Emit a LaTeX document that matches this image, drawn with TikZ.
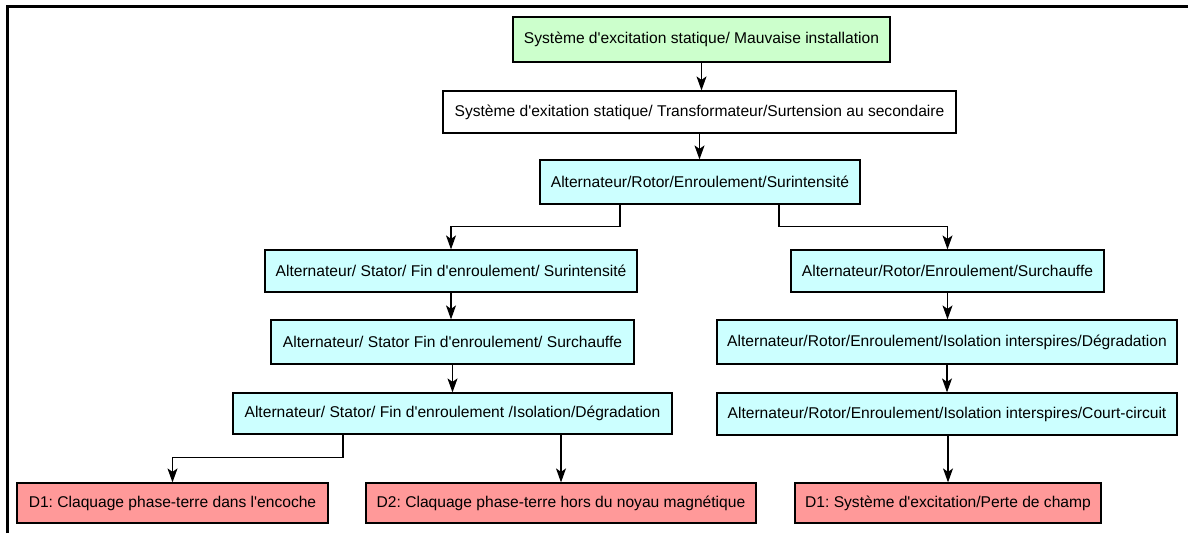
\documentclass[tikz,border=0pt]{standalone}
\usepackage{fontspec}
\setmainfont{Liberation Sans}[Ligatures=TeXOff]
\usetikzlibrary{arrows.meta}
\definecolor{gbox}{HTML}{CCFFCC}
\definecolor{cbox}{HTML}{CCFFFF}
\definecolor{rbox}{HTML}{FF9999}
\frenchspacing
\begin{document}
\begin{tikzpicture}[x=1pt,y=-1pt,
  box/.style={draw, line width=1.2pt, inner sep=0pt, font=\fontsize{15.6}{18}\selectfont},
  arr/.style={line width=1.2pt, -{Stealth[length=14pt,width=10pt,inset=3.5pt]}},
  ln/.style={line width=1.2pt}]
\useasboundingbox (0,0) rectangle (1188,533);
\fill[white] (0,0) rectangle (1188,533);
\draw[line width=2.4pt] (7.5,533) -- (7.5,6.5) -- (1188,6.5);
\node[box, fill=gbox, minimum width=377pt, minimum height=45pt] (g) at (701.5,39.5) {Système d'excitation statique/ Mauvaise installation};
\node[box, fill=white, minimum width=513pt, minimum height=42pt] (w) at (699.5,112) {Système d'exitation statique/ Transformateur/Surtension au secondaire};
\node[box, fill=cbox, minimum width=320pt, minimum height=44pt] (b3) at (700,182) {Alternateur/Rotor/Enroulement/Surintensité};
\node[box, fill=cbox, minimum width=372pt, minimum height=42pt] (b4l) at (451,271) {Alternateur/ Stator/ Fin d'enroulement/ Surintensité};
\node[box, fill=cbox, minimum width=313pt, minimum height=42pt] (b4r) at (947.5,271) {Alternateur/Rotor/Enroulement/Surchauffe};
\node[box, fill=cbox, minimum width=363pt, minimum height=44pt] (b5l) at (452.5,342) {Alternateur/ Stator Fin d'enroulement/ Surchauffe};
\node[box, fill=cbox, minimum width=460pt, minimum height=44pt] (b5r) at (947,342) {Alternateur/Rotor/Enroulement/Isolation interspires/Dégradation};
\node[box, fill=cbox, minimum width=439pt, minimum height=41pt] (b6l) at (452.5,413.5) {Alternateur/ Stator/ Fin d'enroulement /Isolation/Dégradation};
\node[box, fill=cbox, minimum width=460pt, minimum height=42pt] (b6r) at (947,414) {Alternateur/Rotor/Enroulement/Isolation interspires/Court-circuit};
\node[box, fill=rbox, minimum width=311pt, minimum height=40pt] (d1) at (172.5,503) {D1: Claquage phase-terre dans l'encoche};
\node[box, fill=rbox, minimum width=390pt, minimum height=40pt] (d2) at (561,503) {D2: Claquage phase-terre hors du noyau magnétique};
\node[box, fill=rbox, minimum width=306pt, minimum height=40pt] (d3) at (948,503) {D1: Système d'excitation/Perte de champ};
\draw[arr] (g.south) -- (g.south |- w.north);
\draw[arr] (w.south) -- (w.south |- b3.north);
\draw[arr] ([xshift=-80pt]b3.south) -- ++(0,22) -| (b4l.north);
\draw[arr] ([xshift=79pt]b3.south) -- ++(0,22) -| (b4r.north);
\draw[arr] (b4l.south) -- (b4l.south |- b5l.north);
\draw[arr] (b5l.south) -- (b5l.south |- b6l.north);
\draw[arr] (b4r.south) -- (b4r.south |- b5r.north);
\draw[arr] (b5r.south) -- (b5r.south |- b6r.north);
\draw[arr] ([xshift=-109.5pt]b6l.south) -- ++(0,23) -| (d1.north);
\draw[arr] (d2.north |- b6l.south) -- (d2.north);
\draw[arr] (d3.north |- b6r.south) -- (d3.north);
\end{tikzpicture}
\end{document}
